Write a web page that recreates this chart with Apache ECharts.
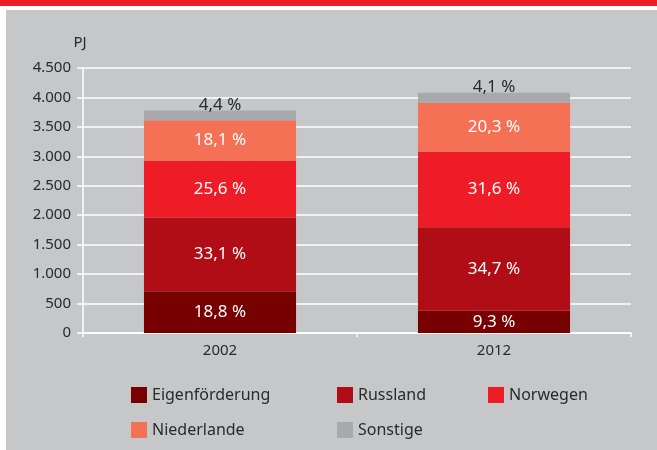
<!DOCTYPE html>
<html>
<head>
<meta charset="utf-8">
<script src="https://cdn.jsdelivr.net/npm/echarts@6/dist/echarts.min.js"></script>
<style>
  html, body { margin: 0; padding: 0; background: #fff; }
  #main { width: 657px; height: 450px; }
</style>
</head>
<body>
<div id="main"></div>
<script>
// Kategorien und Werte (PJ)
var years = ['2002', '2012']
var seriesNames = ['Eigenförderung', 'Russland', 'Norwegen', 'Niederlande', 'Sonstige']
var eigen = [711, 379]
var russland = [1251, 1416]
var norwegen = [968, 1289]
var niederlande = [684, 828]
var sonstige = [166, 167]
// Anteile wie beschriftet
var eigenPct = ['18,8 %', '9,3 %']
var russlandPct = ['33,1 %', '34,7 %']
var norwegenPct = ['25,6 %', '31,6 %']
var niederlandePct = ['18,1 %', '20,3 %']
var sonstigePct = ['4,4 %', '4,1 %']

var colors = ['#770000', '#b00d16', '#ee1c27', '#f47155', '#a8a9ac']
var font = 'Noto Sans'
var textColor = '#2a2a2a'

var chart = echarts.init(document.getElementById('main'))

function makeSeries(name, values, pcts, color, isTop) {
  return {
    name: name,
    type: 'bar',
    stack: 'total',
    barWidth: '55.5%',
    itemStyle: { color: color },
    label: {
      show: true,
      position: isTop ? 'top' : 'inside',
      distance: isTop ? -3 : 0,
      color: isTop ? textColor : '#fff',
      fontFamily: font,
      fontSize: 17,
      formatter: function (p) { return pcts[p.dataIndex] }
    },
    data: values
  }
}

// Legende: jede Position einzeln
var legendPos = [
  [126, 382], [332, 382], [483, 382],
  [126, 417], [332, 417]
]
var legends = seriesNames.map(function (n, i) {
  return {
    data: [n],
    left: legendPos[i][0],
    top: legendPos[i][1],
    itemWidth: 16,
    itemHeight: 16,
    itemGap: 8,
    icon: 'rect',
    selectedMode: false,
    textStyle: { fontFamily: font, fontSize: 16, color: textColor }
  }
})

chart.setOption({
  backgroundColor: '#fff',
  animation: false,
  color: colors,
  graphic: [
    { type: 'rect', z: -10, shape: { x: 0, y: 0, width: 657, height: 6 }, style: { fill: '#ee1c25' } },
    { type: 'rect', z: -10, shape: { x: 6, y: 10, width: 651, height: 440 }, style: { fill: '#c6c7c9' } }
  ],
  legend: legends,
  grid: { left: 83, right: 26, top: 68, bottom: 117 },
  xAxis: {
    type: 'category',
    data: years,
    axisLine: { lineStyle: { color: '#fff', width: 1.5 } },
    axisTick: { show: true, length: 4, lineStyle: { color: '#fff', width: 1.5 } },
    axisLabel: { color: textColor, fontFamily: font, fontSize: 15, margin: 10 }
  },
  yAxis: {
    type: 'value',
    min: 0,
    max: 4500,
    interval: 500,
    name: 'PJ',
    nameLocation: 'end',
    nameGap: 18,
    nameTextStyle: { color: textColor, fontFamily: font, fontSize: 15, align: 'center', padding: [0, 6, 0, 0] },
    axisLine: { show: true, lineStyle: { color: '#fff', width: 1.5 } },
    axisTick: { show: true, length: 6, lineStyle: { color: '#fff', width: 1.5 } },
    splitLine: { lineStyle: { color: '#fff', width: 1.5 } },
    axisLabel: {
      color: textColor, fontFamily: font, fontSize: 15, margin: 12,
      formatter: function (v) { return String(v).replace(/\B(?=(\d{3})+(?!\d))/g, '.') }
    }
  },
  series: [
    makeSeries(seriesNames[0], eigen, eigenPct, colors[0], false),
    makeSeries(seriesNames[1], russland, russlandPct, colors[1], false),
    makeSeries(seriesNames[2], norwegen, norwegenPct, colors[2], false),
    makeSeries(seriesNames[3], niederlande, niederlandePct, colors[3], false),
    makeSeries(seriesNames[4], sonstige, sonstigePct, colors[4], true)
  ]
})
</script>
</body>
</html>
